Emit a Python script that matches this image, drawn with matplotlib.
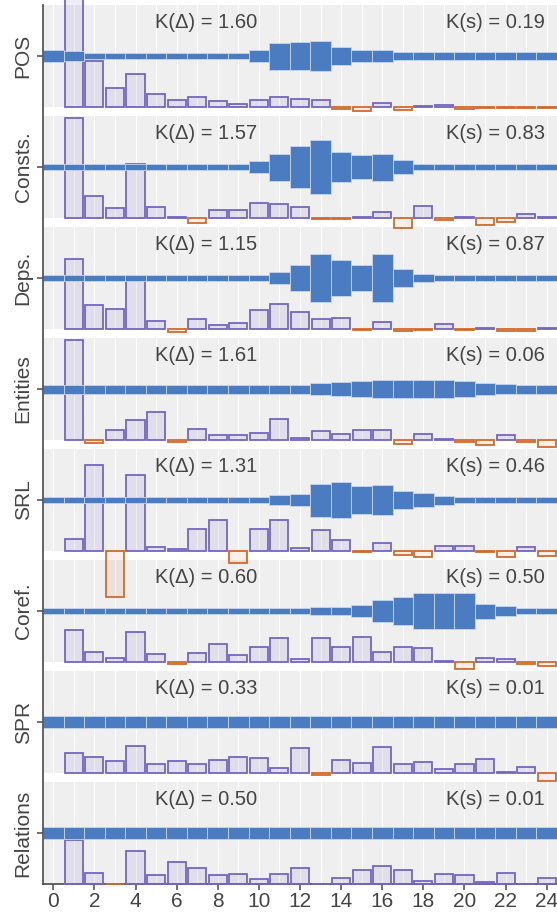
import numpy as np
import matplotlib
matplotlib.use('Agg')
import matplotlib.pyplot as plt
from matplotlib.colors import to_rgba
from matplotlib.lines import Line2D

tasks = ['POS', 'Consts.', 'Deps.', 'Entities', 'SRL', 'Coref.', 'SPR', 'Relations']
k_delta = [1.60, 1.57, 1.15, 1.61, 1.31, 0.60, 0.33, 0.50]
k_s = [0.19, 0.83, 0.87, 0.06, 0.46, 0.50, 0.01, 0.01]
layers = np.arange(25)

# scalar mixing weights s, layers 0..24
mix_pos = [0.043, 0.033] + [0.023]*8 + [0.043, 0.090, 0.093, 0.100, 0.057, 0.040, 0.040] + [0.027]*8
mix_consts = [0.017]*10 + [0.037, 0.090, 0.137, 0.177, 0.100, 0.077, 0.090, 0.047] + [0.017]*7
mix_deps = [0.017]*11 + [0.040, 0.087, 0.163, 0.123, 0.087, 0.160, 0.060, 0.027] + [0.017]*6
mix_entities = [0.030]*13 + [0.037, 0.047, 0.053, 0.060, 0.057, 0.057, 0.057, 0.053, 0.040, 0.033, 0.030, 0.030]
mix_srl = [0.023] + [0.017]*9 + [0.020, 0.033, 0.043, 0.110, 0.123, 0.093, 0.100, 0.063, 0.047, 0.030, 0.023] + [0.020]*4
mix_coref = [0.017]*12 + [0.023, 0.027, 0.027, 0.040, 0.073, 0.093, 0.120, 0.120, 0.117, 0.050, 0.033, 0.023, 0.023]
mix_spr = [0.040]*25
mix_rel = [0.040]*25

# differential scores Delta, layers 1..24
delta_pos = [1.12, 0.46, 0.19, 0.33, 0.13, 0.07, 0.10, 0.06, 0.03, 0.07, 0.10, 0.08,
	0.07, -0.015, -0.04, 0.04, -0.03, 0.01, 0.02, -0.02, -0.01, -0.01, -0.01, -0.01]
delta_consts = [1.00, 0.22, 0.10, 0.54, 0.11, 0.01, -0.05, 0.08, 0.08, 0.15, 0.14, 0.11,
	-0.01, -0.01, 0.015, 0.06, -0.10, 0.12, -0.015, 0.01, -0.07, -0.04, 0.045, 0.015]
delta_deps = [0.70, 0.24, 0.20, 0.52, 0.08, -0.03, 0.10, 0.04, 0.06, 0.19, 0.25, 0.17,
	0.10, 0.11, -0.01, 0.07, -0.015, -0.01, 0.05, -0.01, 0.01, -0.02, -0.02, 0.01]
delta_entities = [1.00, -0.03, 0.10, 0.20, 0.28, -0.015, 0.11, 0.05, 0.05, 0.07, 0.21, 0.02,
	0.09, 0.06, 0.10, 0.10, -0.035, 0.06, 0.015, -0.015, -0.045, 0.055, -0.015, -0.07]
delta_srl = [0.12, 0.86, -0.46, 0.76, 0.04, 0.02, 0.22, 0.31, -0.12, 0.22, 0.31, 0.035,
	0.21, 0.11, -0.01, 0.08, -0.04, -0.06, 0.05, 0.05, -0.01, -0.055, 0.045, -0.05]
delta_coref = [0.32, 0.10, 0.04, 0.30, 0.08, -0.015, 0.09, 0.18, 0.075, 0.15, 0.24, 0.03,
	0.24, 0.15, 0.25, 0.10, 0.15, 0.14, 0.01, -0.065, 0.045, 0.03, -0.015, -0.04]
delta_spr = [0.20, 0.16, 0.12, 0.27, 0.09, 0.12, 0.09, 0.13, 0.16, 0.15, 0.055, 0.25,
	-0.015, 0.13, 0.105, 0.26, 0.09, 0.11, 0.045, 0.09, 0.145, 0.01, 0.065, -0.08]
delta_rel = [0.44, 0.11, -0.003, 0.33, 0.09, 0.22, 0.16, 0.09, 0.10, 0.05, 0.10, 0.16,
	0.005, 0.06, 0.14, 0.18, 0.14, 0.035, 0.10, 0.095, 0.025, 0.11, 0.005, 0.065]

mix = [mix_pos, mix_consts, mix_deps, mix_entities, mix_srl, mix_coref, mix_spr, mix_rel]
delta = [delta_pos, delta_consts, delta_deps, delta_entities, delta_srl, delta_coref, delta_spr, delta_rel]

plt.rcParams['font.family'] = ['Liberation Sans', 'DejaVu Sans']

blue = '#4b7bc0'
purple = '#7565c4'
orange = '#d4692a'
bg = '#efefef'
txt = '#444444'
axcol = '#4a4a4a'

W, H = 557, 914
px_left, px_w = 43, 514
px_top, px_h, px_step = 5, 102, 111
s_scale = 300.   # px per unit of mixing weight
d_scale = 100.   # px per unit of delta

fig = plt.figure(figsize=(W / 100, H / 100), dpi=100)

for i, task in enumerate(tasks):
	top = px_top + i * px_step
	ax = fig.add_axes([px_left / W, 1 - (top + px_h) / H, px_w / W, px_h / H])
	ax.set_zorder(20 - i)    # bars hanging below stay visible over next panel
	ax.set_facecolor(bg)
	ax.set_xlim(-0.5, 24.5)
	ax.set_ylim(0, px_h)
	for sp in ax.spines.values():
		sp.set_visible(False)
	ax.set_xticks(np.arange(0, 25, 2))
	ax.set_xticks(np.arange(25), minor=True)
	ax.grid(True, axis='x', which='both', color='white', lw=0.8)
	ax.set_axisbelow(True)

	s = np.array(mix[i]) * s_scale
	ax.bar(layers, s, bottom=px_h / 2 - s / 2, width=1.0, color=blue,
		edgecolor='#c8d6ec', lw=0.6, zorder=4)

	d = np.array(delta[i]) * d_scale
	edges = [purple if v >= 0 else orange for v in d]
	faces = [to_rgba(purple, 0.12) if v >= 0 else to_rgba(orange, 0.10) for v in d]
	ax.bar(layers[1:], d, bottom=0, width=0.88, facecolor=faces, edgecolor=edges,
		lw=1.3, zorder=3, clip_on=False)

	ax.text(0.218, (px_h - 17.5) / px_h, f'K(\u0394) = {k_delta[i]:.2f}', transform=ax.transAxes,
		ha='left', va='center', fontsize=14.5, color=txt, zorder=6)
	ax.text(0.977, (px_h - 17.5) / px_h, f'K(s) = {k_s[i]:.2f}', transform=ax.transAxes,
		ha='right', va='center', fontsize=14.5, color=txt, zorder=6)

	ax.set_yticks([px_h / 2])
	ax.set_yticklabels([task], rotation=90, va='center', fontsize=15, color=txt)
	ax.tick_params(axis='y', length=4.5, width=1.1, color=axcol, pad=3)

	if i < len(tasks) - 1:
		ax.tick_params(axis='x', which='both', bottom=False, labelbottom=False)
	else:
		ax.spines['bottom'].set_visible(True)
		ax.spines['bottom'].set_color(axcol)
		ax.spines['bottom'].set_linewidth(1.2)
		ax.tick_params(axis='x', which='major', length=4.5, width=1.1, color=axcol,
			labelsize=15, labelcolor=txt, pad=1)
		ax.tick_params(axis='x', which='minor', length=0)

# continuous left axis line across all panels
y_bot = px_top + (len(tasks) - 1) * px_step + px_h
fig.add_artist(Line2D([px_left / W, px_left / W], [1 - px_top / H, 1 - y_bot / H],
	color=axcol, lw=1.2, zorder=30))

fig.savefig('out.png', dpi=100)
